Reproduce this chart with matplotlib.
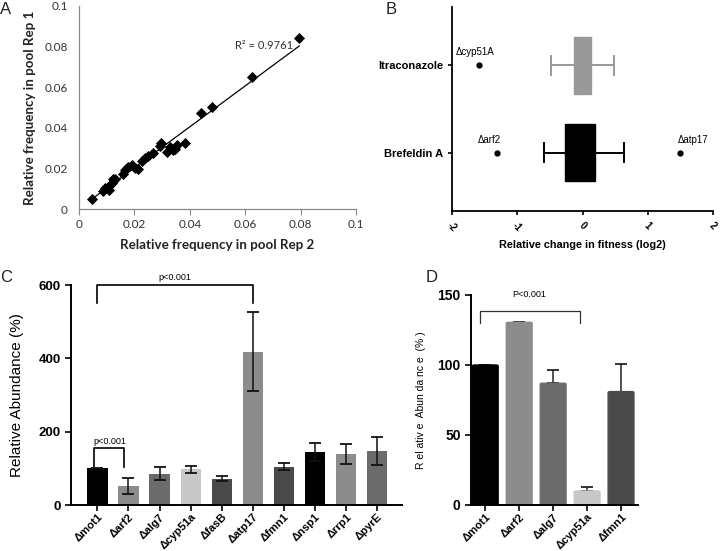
import numpy as np
import matplotlib
matplotlib.use('Agg')
import matplotlib.pyplot as plt
from matplotlib.patches import FancyBboxPatch

plt.rcParams.update({'font.family': ['Liberation Sans', 'DejaVu Sans']})

# panel A: relative frequency in pool, rep 2 vs rep 1
rep2 = [0.0048, 0.0085, 0.0094, 0.0106, 0.0109, 0.0118, 0.0124, 0.0130, 0.0158, 0.0166,
        0.0172, 0.0178, 0.0190, 0.0202, 0.0214, 0.0226, 0.0238, 0.0250, 0.0268, 0.0292,
        0.0295, 0.0316, 0.0329, 0.0340, 0.0346, 0.0355, 0.0383, 0.0440, 0.0480, 0.0623, 0.0795]
rep1 = [0.0051, 0.0088, 0.0101, 0.0110, 0.0093, 0.0127, 0.0147, 0.0149, 0.0170, 0.0191,
        0.0200, 0.0208, 0.0216, 0.0200, 0.0196, 0.0238, 0.0250, 0.0260, 0.0277, 0.0312,
        0.0325, 0.0281, 0.0306, 0.0290, 0.0298, 0.0314, 0.0326, 0.0471, 0.0501, 0.0651, 0.0840]

# panel B: box summaries (log2 fitness change)
drugs = ['Brefeldin A', 'Itraconazole']
box_lo = [-0.27, -0.135]
box_hi = [0.19, 0.135]
whisk_lo = [-0.59, -0.49]
whisk_hi = [0.64, 0.49]
outlier_x = [[-1.31, 1.50], [-1.59]]
outlier_names = [['\u0394arf2', '\u0394atp17'], ['\u0394cyp51A']]

# panel C
strains_c = ['mot1', 'arf2', 'alg7', 'cyp51a', 'fasB', 'atp17', 'fmn1', 'nsp1', 'rrp1', 'pyrE']
abund_c = [100, 52, 85, 97, 72, 418, 105, 145, 140, 147]
err_c = [1.5, 22, 18, 10, 6, 108, 10, 24, 27, 38]
colors_c = ['#000000', '#8c8c8c', '#6b6b6b', '#c8c8c8', '#4a4a4a',
            '#8c8c8c', '#4a4a4a', '#000000', '#8c8c8c', '#6b6b6b']

# panel D
strains_d = ['mot1', 'arf2', 'alg7', 'cyp51a', 'fmn1']
abund_d = [100, 130.5, 87, 10, 81]
err_d = [0.3, 0.3, 9.5, 3, 19.5]
colors_d = ['#000000', '#8c8c8c', '#6b6b6b', '#c8c8c8', '#4a4a4a']

W, H = 720, 551
fig = plt.figure(figsize=(7.2, 5.51), dpi=100)


def ax_px(l, t, r, b):
    return fig.add_axes([l / W, 1 - b / H, (r - l) / W, (b - t) / H])


def bold_ticks(ax):
    for lab in ax.get_yticklabels():
        lab.set_fontweight('bold')


# ---- A ----
ax = ax_px(79, 6, 356, 209)
ax.scatter(rep2, rep1, marker='D', s=32, color='black', zorder=3, linewidths=0)
k, c = np.polyfit(rep2, rep1, 1)
xs = np.array([min(rep2), max(rep2)])
ax.plot(xs, k * xs + c, color='black', lw=0.9)
ax.text(0.0562, 0.0805, 'R\u00b2 = 0.9761', fontsize=8, family='Lato', color='#333333', va='center')
ax.set_xlim(0, 0.1)
ax.set_ylim(0, 0.1)
ticks = [0, 0.02, 0.04, 0.06, 0.08, 0.1]
labels = ['0', '0.02', '0.04', '0.06', '0.08', '0.1']
ax.set_xticks(ticks, labels, family='Lato', fontsize=8.5, color='#333333')
ax.set_yticks(ticks, labels, family='Lato', fontsize=8.5, color='#333333')
for s in ['top', 'right']:
    ax.spines[s].set_visible(False)
for s in ['left', 'bottom']:
    ax.spines[s].set_color('#8a8a8a')
    ax.spines[s].set_linewidth(0.9)
ax.tick_params(axis='x', length=4, color='#8a8a8a', direction='out')
ax.tick_params(axis='y', length=0, pad=8)
ax.set_xlabel('Relative frequency in pool Rep 2', fontsize=9.6, family='Lato', fontweight='bold',
              color='#222222', labelpad=6)
ax.set_ylabel('Relative frequency in pool Rep 1', fontsize=9.6, family='Lato', fontweight='bold',
              color='#222222', labelpad=6)
fig.text(0 / W, 1 - 14 / H, 'A', fontsize=12, color='#222222')

# ---- B ----
ax = ax_px(452, 7, 713, 211)
ypos = [1, 2]
box_cols = ['black', '#999999']
label_dx = [[-0.12, 0.2], [-0.05]]
for i, y in enumerate(ypos):
    col = box_cols[i]
    ax.plot([whisk_lo[i], whisk_hi[i]], [y, y], color=col, lw=1.4, zorder=1)
    for xw in (whisk_lo[i], whisk_hi[i]):
        ax.plot([xw, xw], [y - 0.11, y + 0.11], color=col, lw=1.4)
    ax.add_patch(plt.Rectangle((box_lo[i], y - 0.33), box_hi[i] - box_lo[i], 0.66,
                               color=col, zorder=2))
    for xo, name, dx in zip(outlier_x[i], outlier_names[i], label_dx[i]):
        ax.plot(xo, y, 'o', color='black', ms=3.5)
        ax.text(xo + dx, y + 0.15, name, ha='center', va='center', fontsize=7)
ax.set_xlim(-2, 2)
ax.set_ylim(0.33, 2.67)
ax.set_yticks(ypos, drugs, fontsize=8, fontweight='bold')
ax.set_xticks([-2, -1, 0, 1, 2], ['-2', '-1', '0', '1', '2'], rotation=-45, fontsize=7,
              fontweight='bold')
for s in ['top', 'right']:
    ax.spines[s].set_visible(False)
for s in ['left', 'bottom']:
    ax.spines[s].set_linewidth(1.3)
ax.tick_params(length=3, width=1.2)
ax.set_xlabel('Relative change in fitness (log2)', fontsize=7.8, fontweight='bold', labelpad=5)
fig.text(386 / W, 1 - 14 / H, 'B', fontsize=12, color='#222222')

# ---- C ----
ax = ax_px(71, 285, 402, 505)
xc = np.arange(len(strains_c))
ax.bar(xc, abund_c, width=0.65, color=colors_c, zorder=2)
ax.errorbar(xc, abund_c, yerr=err_c, fmt='none', ecolor='#111111', elinewidth=1.1,
            capsize=4.5, capthick=1.3, zorder=3)
ax.set_xlim(-0.85, 9.8)
ax.set_ylim(0, 600)
ax.set_yticks([0, 200, 400, 600])
ax.tick_params(axis='y', labelsize=9.5, length=4, width=1.2)
ax.tick_params(axis='x', length=4, width=1.2, pad=1)
bold_ticks(ax)
ax.set_xticks(xc, ['\u0394' + s for s in strains_c], rotation=45, ha='right',
              rotation_mode='anchor', fontsize=8, fontweight='bold')
for s in ['top', 'right']:
    ax.spines[s].set_visible(False)
for s in ['left', 'bottom']:
    ax.spines[s].set_linewidth(1.4)
ax.set_ylabel('Relative Abundance (%)', fontsize=11, labelpad=10)
# significance brackets
ax.plot([0, 0, 5, 5], [551, 600, 600, 551], color='black', lw=1.2, clip_on=False)
ax.text(2.5, 608, 'p<0.001', ha='center', va='bottom', fontsize=6.5)
ax.plot([-0.12, -0.12, 0.85, 0.85], [104, 155, 155, 104], color='black', lw=1.2)
ax.text(0.4, 162, 'p<0.001', ha='center', va='bottom', fontsize=6.5)
fig.text(0 / W, 1 - 282 / H, 'C', fontsize=12, color='#222222')

# ---- D ----
ax = ax_px(471, 295, 638, 505)
xd = np.arange(len(strains_d))
bars = ax.bar(xd, abund_d, width=0.76, color=colors_d, zorder=2)
for b, col in zip(bars, colors_d):
    b.set_visible(False)
    ax.add_patch(FancyBboxPatch((b.get_x(), 0), b.get_width(), b.get_height(),
                                boxstyle='round,pad=0,rounding_size=0.06',
                                mutation_aspect=12, color=col, zorder=2))
ax.errorbar(xd, abund_d, yerr=[np.zeros(len(err_d)), err_d], fmt='none', ecolor='#222222',
            elinewidth=1.1, capsize=4, capthick=1.3, zorder=1)
ax.set_xlim(-0.42, 4.5)
ax.set_ylim(0, 150)
ax.set_yticks([0, 50, 100, 150])
ax.tick_params(axis='y', labelsize=10, length=4, width=1.2)
ax.tick_params(axis='x', length=4, width=1.2, pad=1)
bold_ticks(ax)
ax.set_xticks(xd, ['\u0394' + s for s in strains_d], rotation=45, ha='right',
              rotation_mode='anchor', fontsize=8, fontweight='bold')
for s in ['top', 'right']:
    ax.spines[s].set_visible(False)
for s in ['left', 'bottom']:
    ax.spines[s].set_linewidth(1.4)
ax.set_ylabel('R el ativ e  Abun da nc e  (% )', fontsize=7.5, labelpad=8)
ax.plot([-0.15, -0.15, 2.8, 2.8], [130, 138.8, 138.8, 130], color='#333333', lw=0.9,
        zorder=4, clip_on=False)
ax.text(1.3, 150.5, 'P<0.001', ha='center', va='center', fontsize=6.5)
fig.text(426 / W, 1 - 282 / H, 'D', fontsize=12, color='#222222')

fig.savefig('out.png', dpi=100)
